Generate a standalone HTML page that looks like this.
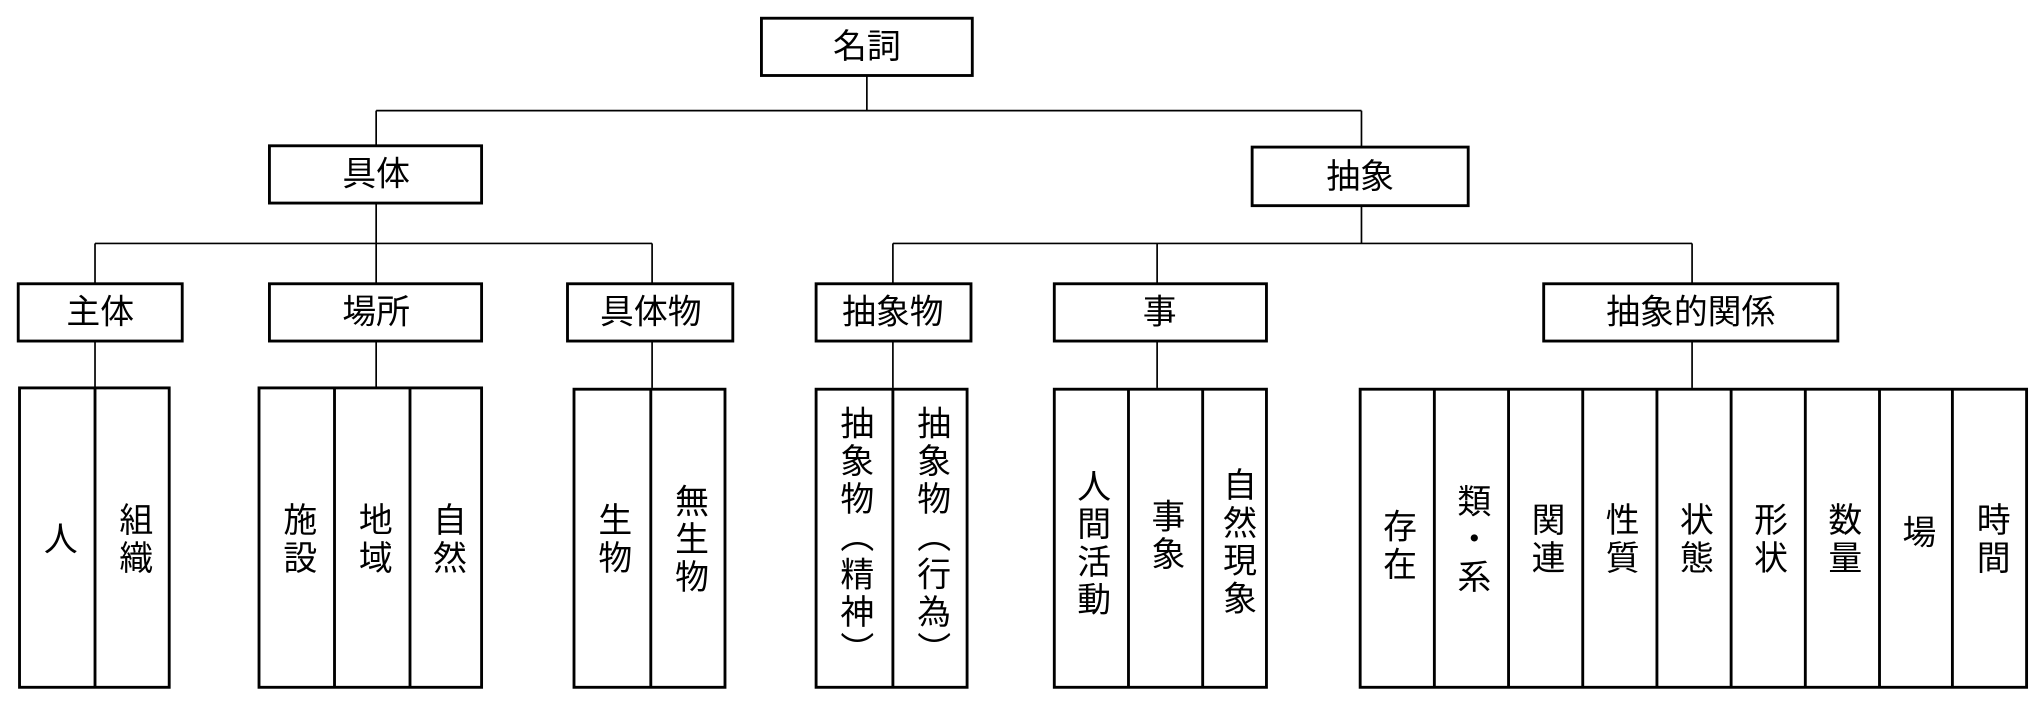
<!DOCTYPE html>
<html><head><meta charset="utf-8"><style>
html,body{margin:0;padding:0;background:#fff;}
svg{display:block;}
text{font-family:"Liberation Sans","Noto Sans CJK JP",sans-serif;font-size:26px;fill:#000;}
.v{writing-mode:vertical-rl;letter-spacing:3px;}
</style></head><body>
<svg width="2037" height="705" viewBox="0 0 1565 541.6" preserveAspectRatio="none">
<g fill="none" stroke="#000">
<g stroke-width="1.3">
<line x1="666" y1="58" x2="666" y2="85"/>
<line x1="289" y1="85" x2="1046" y2="85"/>
<line x1="289" y1="85" x2="289" y2="112"/>
<line x1="1046" y1="85" x2="1046" y2="113"/>
<line x1="289" y1="156" x2="289" y2="218"/>
<line x1="73" y1="187" x2="501" y2="187"/>
<line x1="73" y1="187" x2="73" y2="218"/>
<line x1="501" y1="187" x2="501" y2="218"/>
<line x1="1046" y1="158" x2="1046" y2="187"/>
<line x1="686" y1="187" x2="1300" y2="187"/>
<line x1="686" y1="187" x2="686" y2="218"/>
<line x1="889" y1="187" x2="889" y2="218"/>
<line x1="1300" y1="187" x2="1300" y2="218"/>
<line x1="73" y1="262" x2="73" y2="298"/>
<line x1="289" y1="262" x2="289" y2="298"/>
<line x1="501" y1="262" x2="501" y2="298"/>
<line x1="686" y1="262" x2="686" y2="298"/>
<line x1="889" y1="262" x2="889" y2="298"/>
<line x1="1300" y1="262" x2="1300" y2="298"/>
</g>
<g stroke-width="2.2">
<rect x="585" y="14" width="162" height="44"/>
<rect x="207" y="112" width="163" height="44"/>
<rect x="962" y="113" width="166" height="45"/>
<rect x="14" y="218" width="126" height="44"/>
<rect x="207" y="218" width="163" height="44"/>
<rect x="436" y="218" width="127" height="44"/>
<rect x="627" y="218" width="119" height="44"/>
<rect x="810" y="218" width="163" height="44"/>
<rect x="1186" y="218" width="226" height="44"/>
<rect x="15" y="298" width="115" height="230"/>
<line x1="73" y1="298" x2="73" y2="528"/>
<rect x="199" y="298" width="171" height="230"/>
<line x1="257" y1="298" x2="257" y2="528"/>
<line x1="315" y1="298" x2="315" y2="528"/>
<rect x="441" y="299" width="116" height="229"/>
<line x1="500" y1="299" x2="500" y2="528"/>
<rect x="627" y="299" width="116" height="229"/>
<line x1="686" y1="299" x2="686" y2="528"/>
<rect x="810" y="299" width="163" height="229"/>
<line x1="867" y1="299" x2="867" y2="528"/>
<line x1="924" y1="299" x2="924" y2="528"/>
<rect x="1045" y="299" width="512" height="229"/>
<line x1="1102" y1="299" x2="1102" y2="528"/>
<line x1="1159" y1="299" x2="1159" y2="528"/>
<line x1="1216" y1="299" x2="1216" y2="528"/>
<line x1="1273" y1="299" x2="1273" y2="528"/>
<line x1="1330" y1="299" x2="1330" y2="528"/>
<line x1="1387" y1="299" x2="1387" y2="528"/>
<line x1="1444" y1="299" x2="1444" y2="528"/>
<line x1="1500" y1="299" x2="1500" y2="528"/>
</g>
</g>
<g text-anchor="middle" dominant-baseline="central">
<text x="666" y="36">名詞</text>
<text x="289" y="134">具体</text>
<text x="1045" y="136">抽象</text>
<text x="77" y="240">主体</text>
<text x="289" y="240">場所</text>
<text x="500" y="240">具体物</text>
<text x="686" y="240">抽象物</text>
<text x="891" y="240">事</text>
<text x="1299" y="240">抽象的関係</text>
</g>
<g text-anchor="middle">
<text class="v" x="44" y="415">人</text>
<text class="v" x="102" y="415">組織</text>
<text class="v" x="228" y="415">施設</text>
<text class="v" x="286" y="415">地域</text>
<text class="v" x="343" y="415">自然</text>
<text class="v" x="470" y="415">生物</text>
<text class="v" x="529" y="415">無生物</text>
<text class="v" x="656" y="413">抽象物（精神）</text>
<text class="v" x="715" y="413">抽象物（行為）</text>
<text class="v" x="838" y="418">人間活動</text>
<text class="v" x="895" y="412">事象</text>
<text class="v" x="950" y="417">自然現象</text>
<text class="v" x="1073" y="420">存在</text>
<text class="v" x="1130" y="415">類・系</text>
<text class="v" x="1187" y="415">関連</text>
<text class="v" x="1244" y="415">性質</text>
<text class="v" x="1301" y="415">状態</text>
<text class="v" x="1358" y="415">形状</text>
<text class="v" x="1415" y="415">数量</text>
<text class="v" x="1472" y="410">場</text>
<text class="v" x="1529" y="415">時間</text>
</g>
</svg>
</body></html>
